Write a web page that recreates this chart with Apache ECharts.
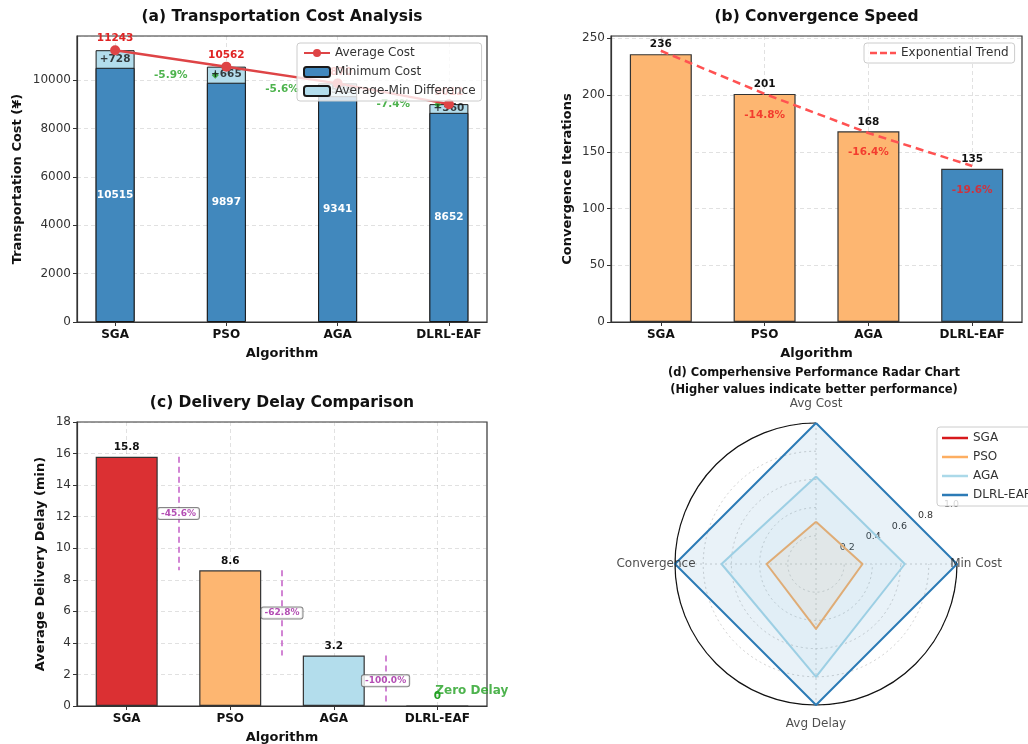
<!DOCTYPE html>
<html>
<head>
<meta charset="utf-8">
<title>Algorithm Performance Comparison</title>
<script src="https://cdn.jsdelivr.net/npm/echarts@6/dist/echarts.min.js"></script>
<style>
  html, body { margin: 0; padding: 0; background: #ffffff; }
  #chart { width: 1028px; height: 744px; }
</style>
</head>
<body>
<div id="chart"></div>
<script>
// ---- data ----
const algorithms = ['SGA', 'PSO', 'AGA', 'DLRL-EAF'];
const minCost = [10515, 9897, 9341, 8652];
const avgCost = [11243, 10562, 9870, 9012];
const iterations = [236, 201, 168, 135];
const trendFit = [239, 201, 166.5, 137.5];
const delayMin = [15.8, 8.6, 3.2, 0];
// radar axes, listed counter-clockwise starting at the top
const radarAxes = ['Avg Cost', 'Convergence', 'Avg Delay', 'Min Cost'];
const scoreSGA = [0, 0, 0, 0];
const scorePSO = [0.30, 0.35, 0.46, 0.33];
const scoreAGA = [0.62, 0.67, 0.80, 0.63];
const scoreDLRL = [1, 1, 1, 1];

// ---- styles ----
const FONT = 'DejaVu Sans';
const BLUE = '#4188BD';
const LIGHT = '#B3DDEC';
const ORANGE = '#FDB671';
const RED_BAR = '#DB3033';
const GREEN = '#22A022';
const PURPLE = '#A020A0';
const convColors = [ORANGE, ORANGE, ORANGE, BLUE];
const delayColors = [RED_BAR, ORANGE, LIGHT, BLUE];
const radarColors = ['#D7191C', '#FDAE61', '#ABD9E9', '#2C7BB6'];
const GRIDLINE = { color: 'rgba(120,120,120,0.28)', type: [4, 3], width: 0.8 };
const POLAR_GRID = { color: '#c4c4c4', type: [2, 3], width: 0.8 };
const catIdx = algorithms.map((_, i) => i);
const LINE_ICON = 'path://M0,0H26V2.5H0Z';
const DASH_ICON = 'path://M0,0H7V2.5H0Z M10,0H17V2.5H10Z M20,0H26V2.5H20Z';
const CENTER = [816, 564];
const RADIUS = 141;

const pct = (a, b) => ((b - a) / a * 100).toFixed(1) + '%';

function xAxisFor(gridIndex, lo, hi) {
  return {
    type: 'value', gridIndex, min: lo, max: hi,
    name: 'Algorithm', nameLocation: 'middle', nameGap: 25,
    nameTextStyle: { fontFamily: FONT, fontWeight: 'bold', fontSize: 13, color: '#111' },
    axisLine: { show: true, onZero: false, lineStyle: { color: '#333', width: 1.2 } },
    axisTick: { show: true, customValues: catIdx, length: 4, lineStyle: { color: '#333' } },
    axisLabel: {
      customValues: catIdx, margin: 7,
      formatter: v => algorithms[Math.round(v)],
      fontFamily: FONT, fontWeight: 'bold', fontSize: 12, color: '#111'
    },
    splitLine: { show: true, lineStyle: GRIDLINE }
  };
}

function yAxisFor(gridIndex, max, interval, name, nameGap, showMax) {
  return {
    type: 'value', gridIndex, min: 0, max, interval,
    name, nameLocation: 'middle', nameGap, nameRotate: 90,
    nameTextStyle: { fontFamily: FONT, fontWeight: 'bold', fontSize: 13, color: '#111' },
    axisLine: { show: true, onZero: false, lineStyle: { color: '#333', width: 1.2 } },
    axisTick: { show: true, length: 4, lineStyle: { color: '#333' } },
    axisLabel: {
      fontFamily: FONT, fontSize: 12, color: '#333', margin: 6,
      showMaxLabel: showMax, formatter: v => String(v)
    },
    splitLine: { show: true, lineStyle: GRIDLINE }
  };
}

const frame = { show: true, borderColor: '#333', borderWidth: 1.2, backgroundColor: 'transparent', containLabel: false, outerBoundsMode: 'none' };

const minMid = minCost.slice(1).map((v, i) => (minCost[i] + v) / 2);
const delayMid = delayMin.slice(1).map((v, i) => (delayMin[i] + v) / 2);

const titleText = (text, x, y, size) => ({
  type: 'text', x, y, silent: true,
  style: {
    text, fill: '#111', fontFamily: FONT, fontWeight: 'bold', fontSize: size,
    textAlign: 'center', align: 'center', textVerticalAlign: 'middle', verticalAlign: 'middle'
  }
});

const radarSeries = [scoreSGA, scorePSO, scoreAGA, scoreDLRL].map((s, k) => ({
  type: 'radar', name: algorithms[k], radarIndex: 0, z: 3,
  symbol: 'none',
  lineStyle: { color: radarColors[k], width: 2 },
  itemStyle: { color: radarColors[k] },
  areaStyle: { color: radarColors[k], opacity: 0.1 },
  data: [{ name: algorithms[k], value: s }]
}));

const legendBox = {
  backgroundColor: 'rgba(255,255,255,0.8)', borderColor: '#cccccc',
  borderWidth: 1, borderRadius: 3,
  textStyle: { fontFamily: FONT, fontSize: 12, color: '#333' }
};

const option = {
  animation: false,
  backgroundColor: '#ffffff',
  textStyle: { fontFamily: FONT },
  graphic: [
    titleText('(a) Transportation Cost Analysis', 282, 17, 15.5),
    titleText('(b) Convergence Speed', 816.5, 17, 15.5),
    titleText('(c) Delivery Delay Comparison', 282, 402.5, 15.5),
    titleText('(d) Comperhensive Performance Radar Chart', 814, 373.5, 11.5),
    titleText('(Higher values indicate better performance)', 814, 390.5, 11.5)
  ],
  grid: [
    Object.assign({ left: 77, top: 36, width: 410, height: 286 }, frame),
    Object.assign({ left: 611, top: 36, width: 411, height: 286 }, frame),
    Object.assign({ left: 77, top: 422, width: 410, height: 284 }, frame)
  ],
  xAxis: [
    xAxisFor(0, -0.3425, 3.3425),
    xAxisFor(1, -0.48, 3.48),
    xAxisFor(2, -0.48, 3.48)
  ],
  yAxis: [
    yAxisFor(0, 11830, 2000, 'Transportation Cost (¥)', 53, false),
    yAxisFor(1, 252, 50, 'Convergence Iterations', 37, false),
    yAxisFor(2, 18, 2, 'Average Delivery Delay (min)', 30, true)
  ],
  // polar frames: #0 carries the circle, rings, spokes and axis names; #1 the radial tick labels
  polar: [
    { center: CENTER, radius: RADIUS },
    { center: CENTER, radius: RADIUS }
  ],
  angleAxis: [
    {
      polarIndex: 0, type: 'category', data: radarAxes, boundaryGap: false,
      startAngle: 90, clockwise: false,
      axisLine: { show: true, lineStyle: { color: '#111', width: 1.2 } },
      axisTick: { show: false }, axisLabel: { show: false },
      splitLine: { show: true, lineStyle: POLAR_GRID }
    },
    { polarIndex: 1, type: 'value', min: 0, max: 360, startAngle: 22.5, show: false }
  ],
  radiusAxis: [
    {
      polarIndex: 0, min: 0, max: 1, interval: 0.2,
      axisLine: { show: false }, axisTick: { show: false }, axisLabel: { show: false },
      splitLine: { show: true, lineStyle: POLAR_GRID }
    },
    {
      polarIndex: 1, min: 0, max: 1, interval: 0.2,
      axisLine: { show: false }, axisTick: { show: false }, splitLine: { show: false },
      axisLabel: {
        show: true, showMinLabel: false, formatter: v => v.toFixed(1),
        fontFamily: FONT, fontSize: 9.5, color: '#333', align: 'left', margin: 6
      }
    }
  ],
  radar: {
    center: CENTER, radius: RADIUS, shape: 'circle', startAngle: 90, splitNumber: 5,
    indicator: radarAxes.map(name => ({ name, min: 0, max: 1 })),
    axisName: { show: false },
    axisLine: { show: false }, splitLine: { show: false }, splitArea: { show: false },
    axisTick: { show: false }, axisLabel: { show: false }
  },
  legend: [
    Object.assign({
      data: ['Average Cost', 'Minimum Cost', 'Average-Min Difference'],
      orient: 'vertical', left: 297, top: 43, itemWidth: 26, itemHeight: 10, itemGap: 7,
      padding: [4, 6]
    }, legendBox),
    Object.assign({
      data: [{ name: 'Exponential Trend', icon: DASH_ICON }],
      orient: 'vertical', left: 864, top: 43, itemWidth: 26, itemHeight: 2.5,
      padding: [4, 6]
    }, legendBox),
    Object.assign({
      data: algorithms.map(n => ({ name: n, icon: LINE_ICON })),
      orient: 'vertical', left: 937, top: 427, itemWidth: 26, itemHeight: 2.5, itemGap: 7,
      padding: [5, 5]
    }, legendBox)
  ],
  series: [
    // (a) cost bars: average height in light blue, minimum drawn over it
    {
      type: 'bar', name: 'Average-Min Difference', xAxisIndex: 0, yAxisIndex: 0,
      barWidth: 39, barGap: '-100%',
      data: avgCost.map((v, i) => [i, v]),
      itemStyle: { color: LIGHT, borderColor: '#1a1a1a', borderWidth: 1 }
    },
    {
      type: 'bar', name: 'Minimum Cost', xAxisIndex: 0, yAxisIndex: 0,
      barWidth: 39, barGap: '-100%',
      data: minCost.map((v, i) => [i, v]),
      itemStyle: { color: BLUE, borderColor: '#1a1a1a', borderWidth: 1 },
      label: {
        show: true, position: 'inside', formatter: p => String(p.value[1]),
        color: '#ffffff', fontFamily: FONT, fontWeight: 'bold', fontSize: 10.5
      }
    },
    {
      type: 'scatter', name: 'cost-gap', xAxisIndex: 0, yAxisIndex: 0, symbolSize: 0,
      data: avgCost.map((v, i) => [i, (v + minCost[i]) / 2]),
      label: {
        show: true, position: 'inside',
        formatter: p => '+' + (avgCost[p.dataIndex] - minCost[p.dataIndex]),
        color: '#111', fontFamily: FONT, fontWeight: 'bold', fontSize: 10.5
      }
    },
    {
      type: 'line', name: 'Average Cost', xAxisIndex: 0, yAxisIndex: 0, z: 3,
      data: avgCost.map((v, i) => [i, v]),
      symbol: 'circle', symbolSize: 10,
      lineStyle: { color: '#DE4446', width: 2.5 },
      itemStyle: { color: '#DE4446' },
      label: {
        show: true, position: 'top', distance: 1, formatter: p => String(p.value[1]),
        color: '#E02424', fontFamily: FONT, fontWeight: 'bold', fontSize: 10.5
      }
    },
    {
      type: 'scatter', name: 'cost-shift-mark', xAxisIndex: 0, yAxisIndex: 0,
      data: minMid.map((m, i) => [i + 0.9, m]),
      symbol: 'diamond', symbolSize: 7, itemStyle: { color: GREEN }
    },
    {
      type: 'scatter', name: 'cost-shift', xAxisIndex: 0, yAxisIndex: 0,
      data: minMid.map((m, i) => [i + 0.5, m]), symbolSize: 0,
      label: {
        show: true, position: 'inside', formatter: p => pct(minCost[p.dataIndex], minCost[p.dataIndex + 1]),
        color: GREEN, fontFamily: FONT, fontWeight: 'bold', fontSize: 10.5
      }
    },

    // (b) convergence bars
    {
      type: 'bar', name: 'Convergence Iterations', xAxisIndex: 1, yAxisIndex: 1, barWidth: 62,
      data: iterations.map((v, i) => ({ value: [i, v], itemStyle: { color: convColors[i] } })),
      itemStyle: { borderColor: '#333', borderWidth: 1.2 },
      label: {
        show: true, position: 'top', distance: 4, formatter: p => String(p.value[1]),
        color: '#111', fontFamily: FONT, fontWeight: 'bold', fontSize: 10.5
      }
    },
    {
      type: 'line', name: 'Exponential Trend', xAxisIndex: 1, yAxisIndex: 1, z: 3,
      data: trendFit.map((v, i) => [i, v]), symbol: 'none', showSymbol: false,
      lineStyle: { color: '#FF5252', width: 2.5, type: [8, 5] },
      itemStyle: { color: '#FF5252' }
    },
    {
      type: 'scatter', name: 'iter-change', xAxisIndex: 1, yAxisIndex: 1, symbolSize: 0,
      data: iterations.slice(1).map((v, k) => [k + 1, v]),
      label: {
        show: true, position: 'inside', offset: [0, 21],
        formatter: p => pct(iterations[p.dataIndex], iterations[p.dataIndex + 1]),
        color: '#F01E1E', fontFamily: FONT, fontWeight: 'bold', fontSize: 10.5
      }
    },

    // (c) delivery delay bars
    {
      type: 'bar', name: 'Delivery Delay', xAxisIndex: 2, yAxisIndex: 2, barWidth: 62,
      data: delayMin.map((v, i) => ({
        value: [i, v], itemStyle: { color: delayColors[i] },
        label: v === 0 ? { color: GREEN } : undefined
      })),
      itemStyle: { borderColor: '#333', borderWidth: 1.2 },
      label: {
        show: true, position: 'top', distance: 4, formatter: p => String(p.value[1]),
        color: '#111', fontFamily: FONT, fontWeight: 'bold', fontSize: 10.5
      },
      markLine: {
        silent: true, symbol: ['none', 'none'], label: { show: false },
        lineStyle: { color: '#C35DC6', type: [6, 4], width: 1.5 },
        data: delayMin.slice(1).map((v, i) => [
          { coord: [i + 0.5, delayMin[i]] },
          { coord: [i + 0.5, v] }
        ])
      }
    },
    {
      type: 'scatter', name: 'delay-change', xAxisIndex: 2, yAxisIndex: 2, symbolSize: 0, z: 5,
      data: delayMid.map((m, i) => [i + 0.5, m]),
      label: {
        show: true, position: 'inside',
        formatter: p => pct(delayMin[p.dataIndex], delayMin[p.dataIndex + 1]),
        color: PURPLE, fontFamily: FONT, fontWeight: 'bold', fontSize: 9,
        backgroundColor: '#ffffff', borderColor: '#666', borderWidth: 1, borderRadius: 2,
        padding: [1, 3]
      }
    },
    {
      type: 'scatter', name: 'zero-delay', xAxisIndex: 2, yAxisIndex: 2, symbolSize: 0,
      data: [[3, delayMin[3]]],
      label: {
        show: true, position: 'right', distance: 0, offset: [-2, -15],
        formatter: 'Zero Delay',
        color: GREEN, fontFamily: FONT, fontWeight: 'bold', fontSize: 12
      }
    },

    // (d) performance radar
    ...radarSeries,
    {
      type: 'scatter', name: 'axis-names', coordinateSystem: 'polar', polarIndex: 0,
      symbolSize: 0, clip: false, silent: true, z: 6,
      data: radarAxes.map(a => [1.135, a]),
      label: {
        show: true, position: 'inside', formatter: p => p.value[1],
        color: '#222', fontFamily: FONT, fontSize: 12
      }
    }
  ]
};

const chart = echarts.init(document.getElementById('chart'), null, { renderer: 'canvas' });
chart.setOption(option);
</script>
</body>
</html>
